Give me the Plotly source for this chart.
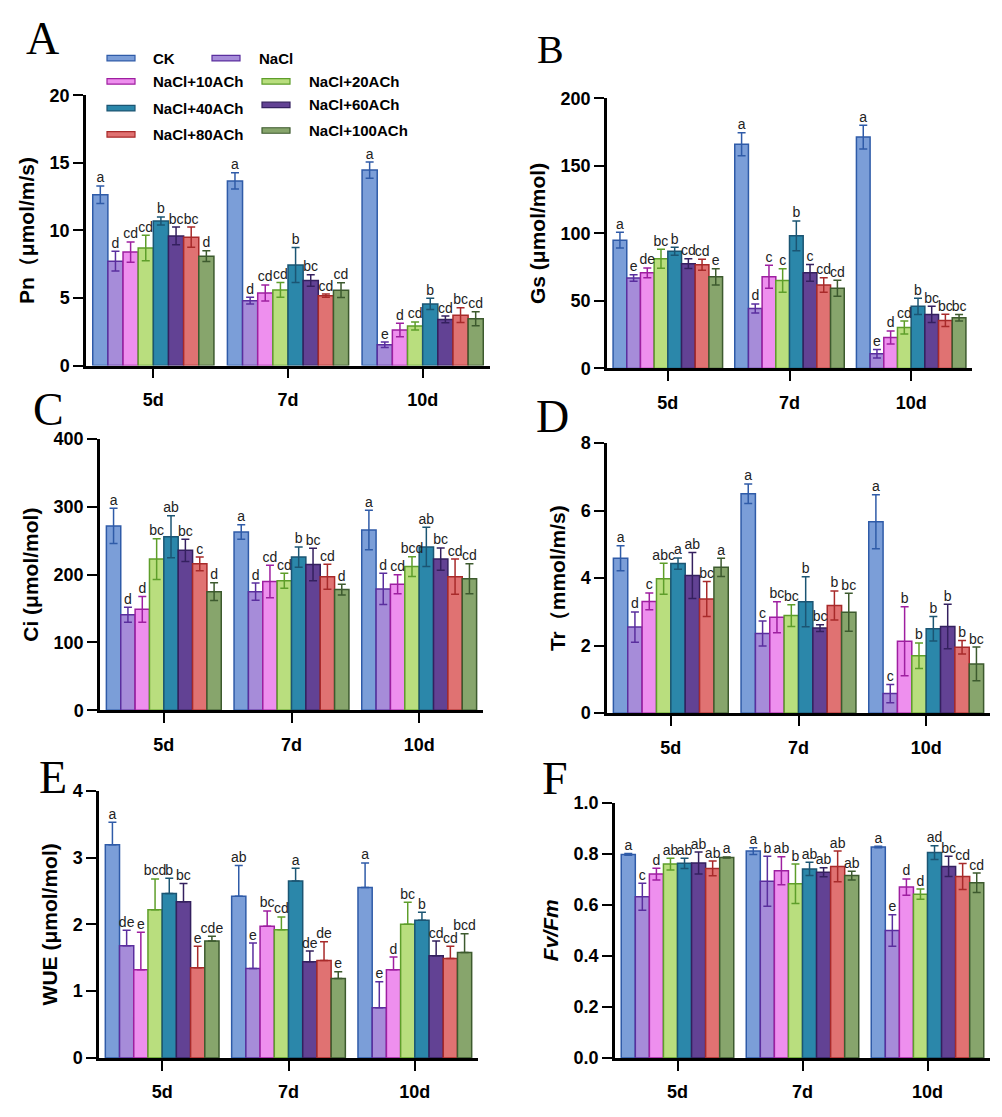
import plotly.graph_objects as go

W, H = 1002, 1117

days = ["5d", "7d", "10d"]
treatments = ["CK", "NaCl", "NaCl+10ACh", "NaCl+20ACh", "NaCl+40ACh",
              "NaCl+60ACh", "NaCl+80ACh", "NaCl+100ACh"]
fills = ["#7B9ED8", "#A68CD9", "#EE8FEE", "#B9DE7E", "#2B87AA", "#624294", "#E07272", "#87A56C"]
edges = ["#2F5BA8", "#5A2E9E", "#9E1FA0", "#5E9E2A", "#1B5573", "#34205F", "#A82A2A", "#3D5A2E"]

# ---- Panel A: Pn  (rows = treatments, cols = 5d, 7d, 10d)
pn_mean = [[12.65, 13.67, 14.47], [7.73, 4.80, 1.54], [8.40, 5.37, 2.63], [8.70, 5.60, 2.93],
           [10.70, 7.44, 4.56], [9.60, 6.30, 3.41], [9.50, 5.17, 3.73], [8.10, 5.58, 3.46]]
pn_err = [[0.65, 0.60, 0.60], [0.73, 0.25, 0.20], [0.75, 0.60, 0.50], [0.95, 0.55, 0.30],
          [0.30, 1.30, 0.42], [0.65, 0.43, 0.25], [0.75, 0.12, 0.55], [0.40, 0.55, 0.52]]
pn_lab = [["a", "a", "a"], ["d", "d", "e"], ["cd", "cd", "d"], ["cd", "cd", "cd"],
          ["b", "b", "b"], ["bc", "bc", "cd"], ["bc", "cd", "bc"], ["d", "cd", "cd"]]

# ---- Panel B: Gs
gs_mean = [[95.0, 166.0, 171.4], [67.0, 44.4, 10.9], [70.8, 67.9, 23.0], [81.2, 65.2, 30.3],
           [86.8, 98.2, 46.0], [77.6, 70.8, 40.0], [76.8, 61.8, 35.6], [67.9, 59.4, 37.6]]
gs_err = [[5.8, 8.5, 8.8], [2.4, 3.4, 3.2], [3.6, 8.5, 4.8], [7.0, 8.7, 4.8],
          [3.0, 11.0, 6.0], [3.6, 6.2, 6.0], [4.0, 5.3, 4.6], [6.0, 6.0, 2.4]]
gs_lab = [["a", "a", "a"], ["e", "d", "e"], ["de", "c", "d"], ["bc", "c", "cd"],
          ["b", "b", "b"], ["cd", "c", "bc"], ["cd", "cd", "bc"], ["e", "cd", "bc"]]

# ---- Panel C: Ci
ci_mean = [[272, 263, 266], [141, 175, 179], [149, 190, 186], [223, 191, 212],
           [256, 226, 241], [236, 215, 223], [216, 197, 197], [175, 178, 194]]
ci_err = [[26, 10.6, 29], [11, 12.6, 23], [19, 24, 14], [30, 11, 14.5],
          [31, 15, 29], [16.5, 24, 16.5], [10, 18.6, 26], [13, 8, 22]]
ci_lab = [["a", "a", "a"], ["d", "d", "d"], ["d", "cd", "cd"], ["bc", "cd", "bcd"],
          ["ab", "b", "ab"], ["bc", "bc", "bc"], ["c", "cd", "cd"], ["d", "d", "cd"]]

# ---- Panel D: Tr
tr_mean = [[4.59, 6.50, 5.67], [2.55, 2.36, 0.58], [3.31, 2.84, 2.13], [3.98, 2.89, 1.70],
           [4.43, 3.30, 2.50], [4.08, 2.52, 2.57], [3.38, 3.19, 1.95], [4.32, 2.99, 1.46]]
tr_err = [[0.37, 0.29, 0.80], [0.45, 0.37, 0.27], [0.25, 0.46, 1.02], [0.46, 0.32, 0.38],
          [0.17, 0.74, 0.36], [0.68, 0.10, 0.66], [0.52, 0.43, 0.20], [0.27, 0.56, 0.50]]
tr_lab = [["a", "a", "a"], ["d", "c", "c"], ["c", "bc", "b"], ["abc", "bc", "b"],
          ["a", "b", "b"], ["ab", "bc", "b"], ["bc", "b", "b"], ["a", "bc", "bc"]]

# ---- Panel E: WUE (upper error only)
wue_mean = [[3.19, 2.42, 2.55], [1.68, 1.34, 0.75], [1.32, 1.97, 1.32], [2.22, 1.92, 2.00],
            [2.46, 2.65, 2.06], [2.34, 1.44, 1.53], [1.35, 1.46, 1.49], [1.75, 1.19, 1.58]]
wue_err = [[0.34, 0.46, 0.37], [0.23, 0.38, 0.39], [0.56, 0.23, 0.19], [0.46, 0.19, 0.33],
           [0.23, 0.19, 0.12], [0.27, 0.16, 0.22], [0.32, 0.28, 0.18], [0.07, 0.10, 0.28]]
wue_lab = [["a", "ab", "a"], ["de", "e", "e"], ["e", "bc", "d"], ["bcd", "cd", "bc"],
           ["b", "a", "b"], ["bc", "de", "cd"], ["e", "de", "cd"], ["cde", "e", "bcd"]]

# ---- Panel F: Fv/Fm
fv_mean = [[0.797, 0.810, 0.826], [0.631, 0.692, 0.499], [0.720, 0.733, 0.669], [0.759, 0.682, 0.641],
           [0.762, 0.740, 0.804], [0.763, 0.727, 0.750], [0.742, 0.750, 0.710], [0.785, 0.714, 0.686]]
fv_err = [[0.003, 0.013, 0.003], [0.053, 0.098, 0.062], [0.023, 0.055, 0.032], [0.023, 0.077, 0.020],
          [0.020, 0.026, 0.027], [0.043, 0.018, 0.040], [0.029, 0.060, 0.051], [0.002, 0.017, 0.038]]
fv_lab = [["a", "a", "a"], ["c", "b", "e"], ["d", "ab", "d"], ["ab", "b", "d"],
          ["ab", "ab", "ad"], ["ab", "ab", "bc"], ["ab", "ab", "cd"], ["a", "ab", "cd"]]

# panel layout in pixels: (x0, x1, ytop, ybottom)
panels = [
    dict(letter="A", mean=pn_mean, err=pn_err, lab=pn_lab, title="Pn（μmol/m/s)", rng=[0, 20], dt=5,
         box=(86, 490, 87, 362), fmt="", one_sided=False, lpos=(42, 29, 46)),
    dict(letter="B", mean=gs_mean, err=gs_err, lab=gs_lab, title="Gs (μmol/mol)", rng=[0, 200], dt=50,
         box=(607, 972, 90, 365), fmt="", one_sided=False, lpos=(550, 40, 40)),
    dict(letter="C", mean=ci_mean, err=ci_err, lab=ci_lab, title="Ci (μmol/mol)", rng=[0, 400], dt=100,
         box=(100, 483, 437, 713), fmt="", one_sided=False, lpos=(48, 407, 46)),
    dict(letter="D", mean=tr_mean, err=tr_err, lab=tr_lab, title="Tr（mmol/m/s)", rng=[0, 8], dt=2,
         box=(607, 990, 441, 716), fmt="", one_sided=False, lpos=(552, 414, 46)),
    dict(letter="E", mean=wue_mean, err=wue_err, lab=wue_lab, title="WUE (μmol/mol)", rng=[0, 4], dt=1,
         box=(99, 478, 795, 1067), fmt="", one_sided=True, lpos=(53, 782, 46)),
    dict(letter="F", mean=fv_mean, err=fv_err, lab=fv_lab, title="<i>Fv/Fm</i>", rng=[0, 1], dt=0.2,
         box=(615, 990, 807, 1067), fmt=".1f", one_sided=False, lpos=(555, 783, 46)),
]

FONT = "Liberation Sans, Arial, sans-serif"
SERIF = "Liberation Serif, Times New Roman, serif"

def px(x):
    return x / W

def py(y):
    return 1 - y / H

fig = go.Figure()
layout = dict(width=W, height=H, margin=dict(l=0, r=0, t=0, b=0),
              paper_bgcolor="white", plot_bgcolor="white", showlegend=False,
              barmode="overlay", font=dict(family=FONT, color="black"))
annotations = []
shapes = []

n = len(treatments)
gw = 0.9
bw = gw / n

for k, p in enumerate(panels):
    sx = "" if k == 0 else str(k + 1)
    xa, ya = "x" + sx, "y" + sx
    x0, x1, yt, yb = p["box"]
    for i in range(n):
        xs = [g - gw / 2 + bw * (i + 0.5) for g in range(len(days))]
        ys = p["mean"][i]
        es = p["err"][i]
        if p["one_sided"]:
            ey = dict(type="data", array=es, arrayminus=[0] * len(es), symmetric=False,
                      color=edges[i], thickness=1.5, width=4)
        else:
            ey = dict(type="data", array=es, color=edges[i], thickness=1.5, width=4)
        fig.add_trace(go.Bar(x=xs, y=ys, width=bw, name=treatments[i], error_y=ey,
                             marker=dict(color=fills[i], line=dict(color=edges[i], width=1.5)),
                             xaxis=xa, yaxis=ya))
        fig.add_trace(go.Scatter(x=xs, y=[m + e for m, e in zip(ys, es)], mode="text",
                                 text=p["lab"][i], textposition="top center",
                                 textfont=dict(size=14, color="#222", family=FONT),
                                 cliponaxis=False, xaxis=xa, yaxis=ya))
    nt = int(round((p["rng"][1] - p["rng"][0]) / p["dt"]))
    tv = [p["rng"][0] + j * p["dt"] for j in range(nt + 1)]
    layout["xaxis" + sx] = dict(domain=[px(x0), px(x1)], anchor=ya, range=[-0.5, 2.5],
                                tickvals=[0, 1, 2], ticktext=days, showline=True, linewidth=2.5,
                                linecolor="black", ticks="outside", ticklen=10, tickwidth=2,
                                tickcolor="black", showgrid=False, zeroline=False,
                                ticklabelstandoff=6,
                                tickfont=dict(size=18, weight="bold", family=FONT))
    layout["yaxis" + sx] = dict(domain=[py(yb), py(yt)], anchor=xa, range=p["rng"],
                                tickvals=tv, tickformat=p["fmt"], showline=True, linewidth=2.5,
                                linecolor="black", ticks="outside", ticklen=10, tickwidth=2,
                                tickcolor="black", showgrid=False, zeroline=False,
                                tickfont=dict(size=18, weight="bold", family=FONT),
                                title=dict(text=p["title"], standoff=10,
                                           font=dict(size=21, weight="bold", family=FONT)))
    lx, ly, ls = p["lpos"]
    annotations.append(dict(x=px(lx), y=py(ly), xref="paper", yref="paper", text=p["letter"],
                            showarrow=False, xanchor="center", yanchor="middle",
                            font=dict(size=ls, family=SERIF, color="black")))

# legend (drawn in panel A)
leg_pos = [(107, 49, 151), (212, 49, 257), (107, 72.7, 151), (262, 72.7, 307),
           (107, 100, 151), (262, 96.7, 307), (107, 126.7, 151), (262, 122.7, 307)]
for i, (lx, ly, tx) in enumerate(leg_pos):
    shapes.append(dict(type="rect", xref="paper", yref="paper", x0=px(lx), x1=px(lx + 28),
                       y0=py(ly + 2.8), y1=py(ly - 2.8), fillcolor=fills[i],
                       line=dict(color=edges[i], width=1.2)))
    annotations.append(dict(x=px(tx), y=py(ly), xref="paper", yref="paper", text=treatments[i],
                            showarrow=False, xanchor="left", yanchor="middle",
                            font=dict(size=15, weight="bold", family=FONT, color="black")))

layout["annotations"] = annotations
layout["shapes"] = shapes
fig.update_layout(**layout)
fig.write_html("out.html", config={"displayModeBar": False},
               post_script="document.body.style.margin='0';document.body.style.padding='0';"
                           "document.documentElement.style.overflow='hidden';")
